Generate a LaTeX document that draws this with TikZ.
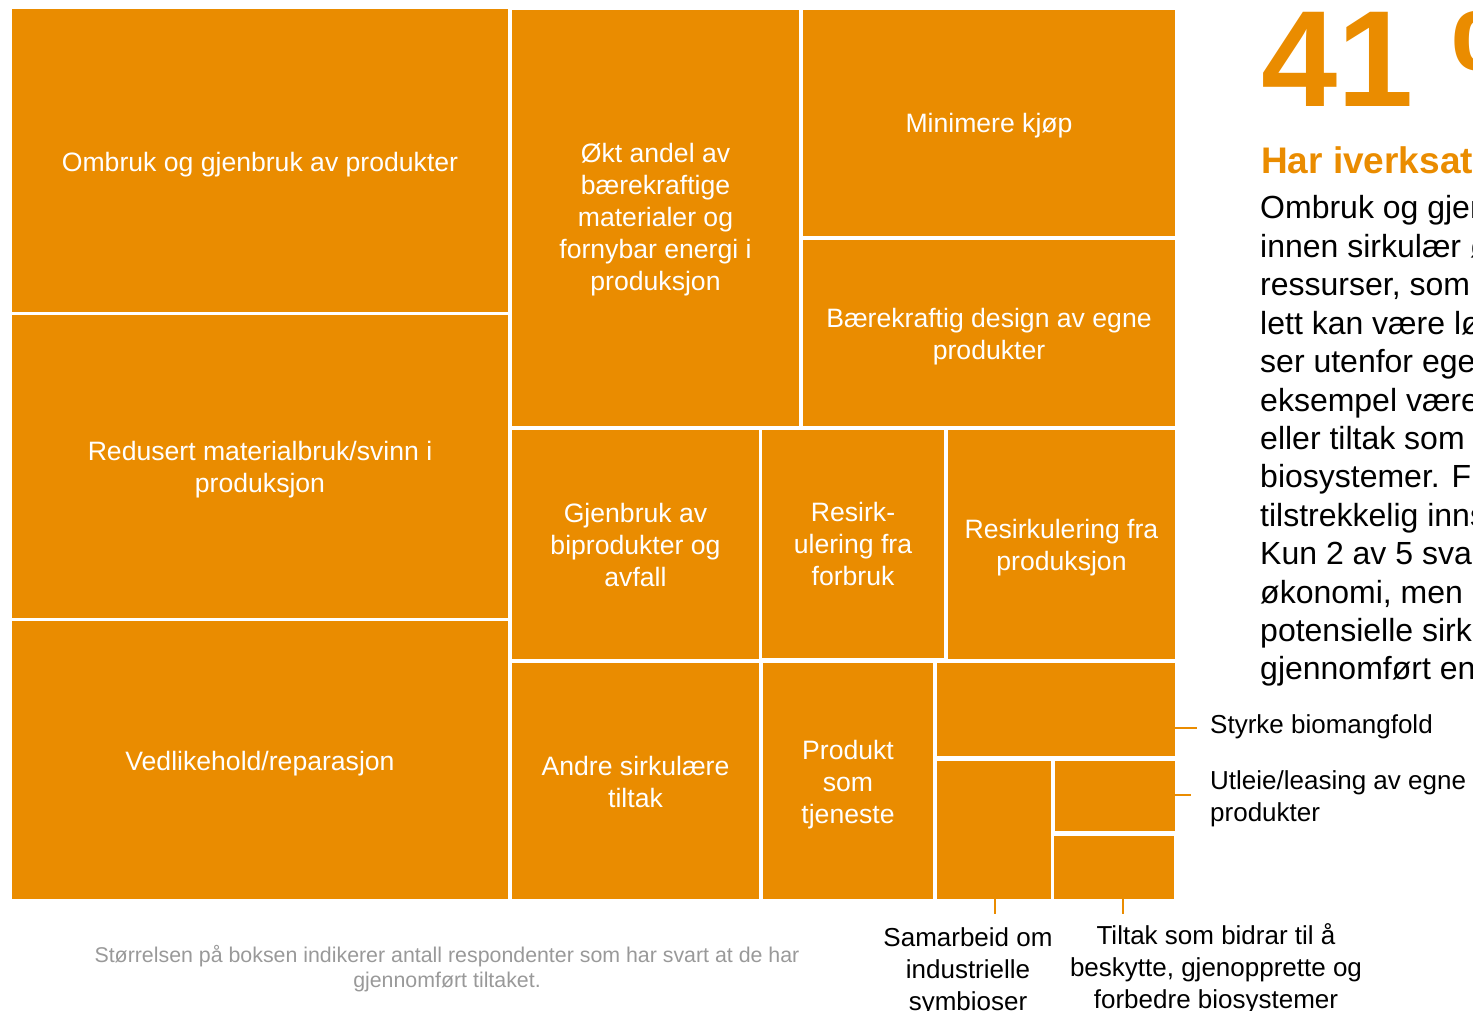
\documentclass[tikz,border=0pt]{standalone}
\usepackage{fontspec}
\setmainfont{Liberation Sans}
\definecolor{orng}{RGB}{234,140,0}
\definecolor{fgray}{RGB}{153,153,153}
\tikzset{
  tile/.style={fill=orng, draw=none, inner sep=0pt, outer sep=0pt},
  tiletext/.style={inner sep=0pt, text=white, align=center, font=\fontsize{26.6}{32}\selectfont},
  leader/.style={draw=orng, line width=1.5pt},
  lbl/.style={inner sep=0pt, text=black, font=\fontsize{26}{32}\selectfont},
  body/.style={inner sep=0pt, anchor=base west, text=black, font=\fontsize{32}{38.4}\selectfont},
}
\begin{document}
\begin{tikzpicture}[x=1pt,y=-1pt]
\useasboundingbox (0,0) rectangle (1473,1011);
% tiles
\node[tile, minimum width=496, minimum height=303] (ombruk) at (260,160.5) {};
\node[tile, minimum width=496, minimum height=303] (redusert) at (260,466.5) {};
\node[tile, minimum width=496, minimum height=278] (vedl) at (260,760) {};
\node[tile, minimum width=287, minimum height=416] (okt) at (655.5,218) {};
\node[tile, minimum width=372, minimum height=226] (minimere) at (989,123) {};
\node[tile, minimum width=372, minimum height=186] (baere) at (989,333) {};
\node[tile, minimum width=247, minimum height=229] (gjenbruk) at (635.5,544.5) {};
\node[tile, minimum width=182, minimum height=228] (resirk) at (853,544) {};
\node[tile, minimum width=227, minimum height=229] (resprod) at (1061.5,544.5) {};
\node[tile, minimum width=247, minimum height=236] (andre) at (635.5,781) {};
\node[tile, minimum width=170, minimum height=236] (produkt) at (848,781) {};
\node[tile, minimum width=238, minimum height=93] (styrke) at (1056,709.5) {};
\node[tile, minimum width=114, minimum height=138] (samarbeid) at (994,830) {};
\node[tile, minimum width=120, minimum height=70] (utleie) at (1115,796) {};
\node[tile, minimum width=120, minimum height=63] (tiltak) at (1114,867.5) {};
% tile texts
\node[tiletext] (tombruk) at ([yshift=-4pt]ombruk.center) {Ombruk og gjenbruk av produkter};
\node[tiletext] (tredusert) at ([yshift=-3pt]redusert.center) {Redusert materialbruk/svinn i\\produksjon};
\node[tiletext] (tvedl) at ([yshift=-4pt]vedl.center) {Vedlikehold/reparasjon};
\node[tiletext] (tokt) at ([yshift=-2pt]okt.center) {Økt andel av\\bærekraftige\\materialer og\\fornybar energi i\\produksjon};
\node[tiletext] (tminimere) at ([yshift=-3pt]minimere.center) {Minimere kjøp};
\node[tiletext] (tbaere) at ([yshift=-4pt]baere.center) {Bærekraftig design av egne\\produkter};
\node[tiletext] (tgjenbruk) at (gjenbruk.center) {Gjenbruk av\\biprodukter og\\avfall};
\node[tiletext] (tresirk) at (resirk.center) {Resirk-\\ulering fra\\forbruk};
\node[tiletext] (tresprod) at ([yshift=-3pt]resprod.center) {Resirkulering fra\\produksjon};
\node[tiletext] (tandre) at ([yshift=-1pt]andre.center) {Andre sirkulære\\tiltak};
\node[tiletext] (tprodukt) at ([yshift=-4pt]produkt.center) {Produkt\\som\\tjeneste};
% leaders and labels
\coordinate (cs) at (1197,728);
\coordinate (cu) at (1191,795);
\coordinate (csa) at (995,914);
\coordinate (cti) at (1123,914);
\draw[leader] (styrke.east |- cs) -- (cs);
\draw[leader] (utleie.east |- cu) -- (cu);
\draw[leader] (samarbeid.south -| csa) -- (csa);
\draw[leader] (tiltak.south -| cti) -- (cti);
\node[lbl, anchor=west] (lstyrke) at (1210,727) {Styrke biomangfold};
\node[lbl, anchor=west, align=left] (lutleie) at (1210,799) {Utleie/leasing av egne\\produkter};
\node[lbl, align=center] (lsamarbeid) at (968,972) {Samarbeid om\\industrielle\\symbioser};
\node[lbl, align=center] (ltiltak) at (1216,969) {Tiltak som bidrar til å\\beskytte, gjenopprette og\\forbedre biosystemer};
% footnote
\node[inner sep=0pt, text=fgray, align=center, font=\fontsize{21.35}{25}\selectfont] (foot) at (447,968.5)
  {Størrelsen på boksen indikerer antall respondenter som har svart at de har\\gjennomført tiltaket.};
% right text
\node[inner sep=0pt, anchor=base west, text=orng, font=\fontsize{137}{140}\selectfont\bfseries] (pct) at (1261,107) {41 \%};
\node[inner sep=0pt, anchor=base west, text=orng, font=\fontsize{37}{40}\selectfont\bfseries] (head) at (1261,174) {Har iverksatt};
\node[body] (b1) at (1260,219) {Ombruk og gjen};
\node[body] (b2) at (1260,257.4) {innen sirkulær ø};
\node[body] (b3) at (1260,295.8) {ressurser, som};
\node[body] (b4) at (1260,334.2) {lett kan være lø};
\node[body] (b5) at (1260,372.6) {ser utenfor egen};
\node[body] (b6) at (1260,411) {eksempel være};
\node[body] (b7) at (1260,449.4) {eller tiltak som};
\node[body] (b8) at (1260,487.8) {biosystemer. Fu};
\node[body] (b9) at (1260,526.2) {tilstrekkelig inns};
\node[body] (b10) at (1260,564.6) {Kun 2 av 5 svar};
\node[body] (b11) at (1260,603) {økonomi, men};
\node[body] (b12) at (1260,641.4) {potensielle sirk};
\node[body] (b13) at (1260,679.8) {gjennomført en};
\end{tikzpicture}
\end{document}
